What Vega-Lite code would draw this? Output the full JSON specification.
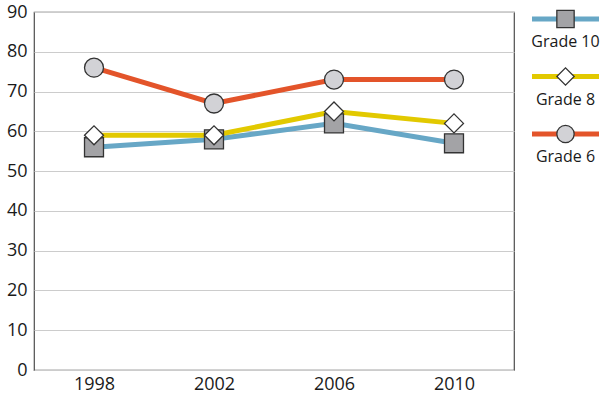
{
  "$schema": "https://vega.github.io/schema/vega-lite/v6.json",
  "padding": {"left": 5, "top": 2, "right": 0, "bottom": 5},
  "datasets": {
    "scores": [
      {"year": "1998", "grade": "Grade 10", "score": 56},
      {"year": "2002", "grade": "Grade 10", "score": 58},
      {"year": "2006", "grade": "Grade 10", "score": 62},
      {"year": "2010", "grade": "Grade 10", "score": 57},
      {"year": "1998", "grade": "Grade 8", "score": 59},
      {"year": "2002", "grade": "Grade 8", "score": 59},
      {"year": "2006", "grade": "Grade 8", "score": 65},
      {"year": "2010", "grade": "Grade 8", "score": 62},
      {"year": "1998", "grade": "Grade 6", "score": 76},
      {"year": "2002", "grade": "Grade 6", "score": 67},
      {"year": "2006", "grade": "Grade 6", "score": 73},
      {"year": "2010", "grade": "Grade 6", "score": 73}
    ],
    "series": [
      {"grade": "Grade 10"},
      {"grade": "Grade 8"},
      {"grade": "Grade 6"}
    ]
  },
  "config": {
    "font": "Open Sans",
    "axis": {
      "labelFont": "Open Sans",
      "labelFontSize": 18,
      "labelColor": "#1a1a1a",
      "ticks": false,
      "domain": false,
      "title": null
    }
  },
  "spacing": 14,
  "hconcat": [
    {
      "width": 480,
      "height": 358,
      "view": {"stroke": "#4d4d4d", "strokeWidth": 1.2},
      "data": {"name": "scores"},
      "encoding": {
        "x": {
          "field": "year",
          "type": "ordinal",
          "scale": {"type": "point", "padding": 0.5},
          "axis": {"labelAngle": 0, "labelPadding": 5, "grid": false}
        },
        "y": {
          "field": "score",
          "type": "quantitative",
          "scale": {"domain": [0, 90], "nice": false},
          "axis": {"values": [0, 10, 20, 30, 40, 50, 60, 70, 80, 90], "gridColor": "#cccccc", "gridWidth": 1, "labelPadding": 7}
        }
      },
      "layer": [
        {
          "mark": {"type": "line", "strokeWidth": 5},
          "encoding": {
            "color": {
              "field": "grade",
              "type": "nominal",
              "scale": {"domain": ["Grade 10", "Grade 8", "Grade 6"], "range": ["#67a7c6", "#e2c900", "#e3542a"]},
              "legend": null
            }
          }
        },
        {
          "mark": {"type": "point", "filled": true, "size": 360, "stroke": "#333333", "strokeWidth": 1.3, "opacity": 1},
          "encoding": {
            "shape": {
              "field": "grade",
              "type": "nominal",
              "scale": {"domain": ["Grade 10", "Grade 8", "Grade 6"], "range": ["square", "diamond", "circle"]},
              "legend": null
            },
            "fill": {
              "field": "grade",
              "type": "nominal",
              "scale": {"domain": ["Grade 10", "Grade 8", "Grade 6"], "range": ["#a3a3a6", "#ffffff", "#d2d2d6"]},
              "legend": null
            }
          }
        }
      ]
    },
    {
      "width": 67,
      "height": 358,
      "view": {"stroke": null},
      "data": {"name": "series"},
      "encoding": {
        "y": {
          "field": "grade",
          "type": "nominal",
          "scale": {"type": "point", "domain": ["Grade 10", "Grade 8", "Grade 6"], "range": [7, 122], "padding": 0},
          "axis": null
        }
      },
      "layer": [
        {
          "mark": {"type": "rule", "strokeWidth": 5},
          "encoding": {
            "color": {
              "field": "grade",
              "type": "nominal",
              "scale": {"domain": ["Grade 10", "Grade 8", "Grade 6"], "range": ["#67a7c6", "#e2c900", "#e3542a"]},
              "legend": null
            }
          }
        },
        {
          "mark": {"type": "point", "filled": true, "size": 300, "stroke": "#333333", "strokeWidth": 1.3, "opacity": 1},
          "encoding": {
            "shape": {
              "field": "grade",
              "type": "nominal",
              "scale": {"domain": ["Grade 10", "Grade 8", "Grade 6"], "range": ["square", "diamond", "circle"]},
              "legend": null
            },
            "fill": {
              "field": "grade",
              "type": "nominal",
              "scale": {"domain": ["Grade 10", "Grade 8", "Grade 6"], "range": ["#a3a3a6", "#ffffff", "#d2d2d6"]},
              "legend": null
            }
          }
        },
        {
          "mark": {"type": "text", "dy": 23, "fontSize": 16, "color": "#1a1a1a", "font": "Open Sans"},
          "encoding": {"text": {"field": "grade"}}
        }
      ]
    }
  ]
}
